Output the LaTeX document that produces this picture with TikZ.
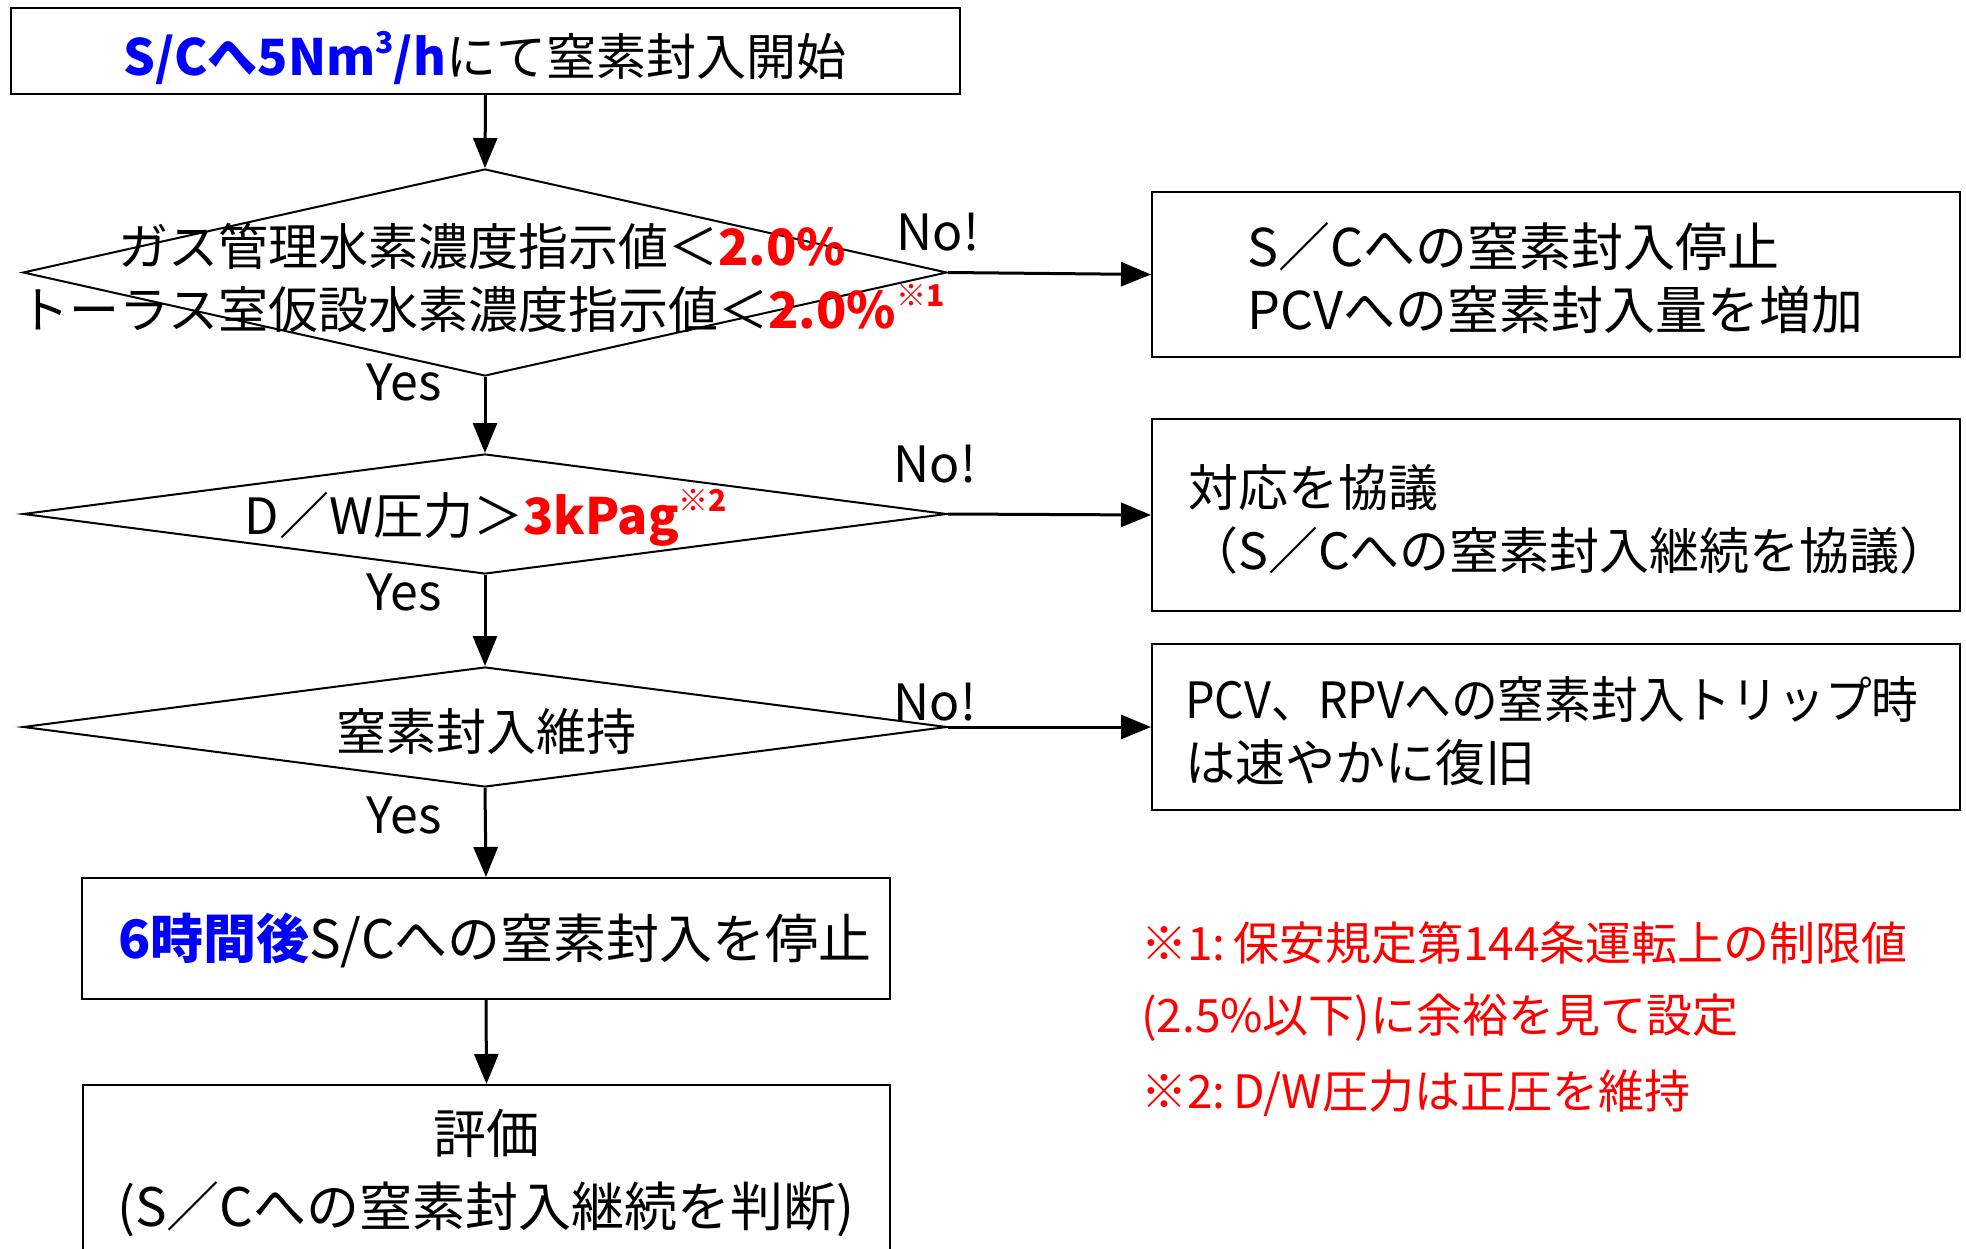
\documentclass[tikz,border=0pt]{standalone}
\usepackage{fontspec}
\setmainfont{Noto Sans CJK JP}
\usetikzlibrary{shapes.geometric,arrows.meta}
\definecolor{fgred}{RGB}{255,0,0}
\definecolor{fgblue}{RGB}{0,0,255}
\newcommand{\mysup}[1]{\raisebox{0.45em}{\fontsize{30}{30}\selectfont #1}}
\begin{document}
\begin{tikzpicture}[x=1pt,y=-1pt,
  every node/.style={font=\fontsize{50}{63}\selectfont, inner sep=0pt},
  boxnode/.style={draw, line width=2pt, rectangle},
  dianode/.style={draw, line width=2pt, diamond, inner sep=0pt},
  flow/.style={line width=3pt, -{Triangle[length=30pt,width=24pt]}},
  lbl/.style={font=\fontsize{50}{50}\selectfont},
  note/.style={text=fgred, anchor=west, align=left, font=\fontsize{46}{72}\selectfont}]
\useasboundingbox (0,0) rectangle (1966,1249);
\clip (0,0) rectangle (1966,1249);
\fill[white] (0,0) rectangle (1966,1249);

% left column shapes
\node[boxnode, minimum width=949pt, minimum height=86pt] (start) at (485.5,51) {};
\node[dianode, minimum width=924pt, minimum height=207pt] (d1) at (485,272.5) {};
\node[dianode, minimum width=924pt, minimum height=120pt] (d2) at (485,514) {};
\node[dianode, minimum width=924pt, minimum height=120pt] (d3) at (485,727) {};
\node[boxnode, minimum width=808pt, minimum height=121pt] (b6) at (486,938.5) {};
\node[boxnode, minimum width=807pt, minimum height=200pt] (ev) at (486.5,1185) {};

% right column boxes
\node[boxnode, minimum width=808pt, minimum height=165pt] (r1) at (1556,274.5) {};
\node[boxnode, minimum width=808pt, minimum height=192pt] (r2) at (1556,515) {};
\node[boxnode, minimum width=808pt, minimum height=166pt] (r3) at (1556,727) {};

% texts
\node (tstart) at (485,58) {\textcolor{fgblue}{\bfseries S/Cへ5Nm\mysup{3}/h}にて窒素封入開始};
\node[align=center] (td1) at (482,278) {ガス管理水素濃度指示値＜\textcolor{fgred}{\bfseries 2.0\%}\\
  トーラス室仮設水素濃度指示値＜\textcolor{fgred}{\bfseries 2.0\%\mysup{※1}}};
\node (td2) at (486,518) {D／W圧力＞\textcolor{fgred}{\bfseries 3kPag\mysup{※2}}};
\node (td3) at (486,731) {窒素封入維持};
\node[font=\fontsize{53}{63}\selectfont] (tb6) at (495,940) {\textcolor{fgblue}{\bfseries 6時間後}S/Cへの窒素封入を停止};
\node[align=center, font=\fontsize{53}{73}\selectfont] (tev) at (486,1173) {評価\\(S／Cへの窒素封入継続を判断)};

\node[anchor=west, align=left, font=\fontsize{52}{63}\selectfont] (tr1) at (1247,278) {S／Cへの窒素封入停止\\PCVへの窒素封入量を増加};
\node[anchor=west, align=left] (tr2) at (1188,519) {対応を協議\\（S／Cへの窒素封入継続を協議）};
\node[anchor=west, align=left] (tr3) at (1185,731) {\scalebox{0.935}[1]{PCV、RPVへの窒素封入トリップ時}\\は速やかに復旧};

\node[note] (n1) at (1141,982) {※1:\,保安規定第144条運転上の制限値\\(2.5\%以下)に余裕を見て設定};
\node[note] (n2) at (1141,1093) {※2:\,D/W圧力は正圧を維持};

% labels
\node[lbl] (y1) at (404,382) {Yes};
\node[lbl] (y2) at (404,592) {Yes};
\node[lbl] (y3) at (404,815) {Yes};
\node[lbl] (no1) at (938,232) {No!};
\node[lbl] (no2) at (935,464) {No!};
\node[lbl] (no3) at (935,702) {No!};

% connectors
\draw[flow] (start.south) -- (d1.north);
\draw[flow] (d1.south) -- (d2.north);
\draw[flow] (d2.south) -- (d3.north);
\draw[flow] (d3.south) -- (b6.north);
\draw[flow] (b6.south) -- (ev.north);
\draw[flow] (d1.east) -- (r1.west);
\draw[flow] (d2.east) -- (r2.west);
\draw[flow] (d3.east) -- (r3.west);
\end{tikzpicture}
\end{document}
